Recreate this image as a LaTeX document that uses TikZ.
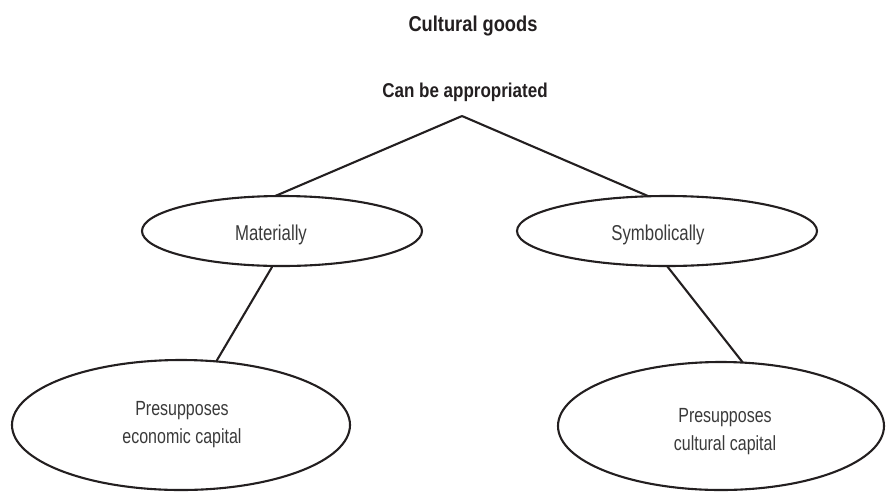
\documentclass[tikz,border=0pt]{standalone}
\usepackage{fontspec}
\setmainfont{Liberation Sans}
\newfontfamily\condreg[FakeStretch=0.78]{Liberation Sans}
\newfontfamily\condbold[FakeStretch=0.85]{Liberation Sans Bold}
\usetikzlibrary{shapes.geometric}
\definecolor{ink}{HTML}{231F20}
\definecolor{txtgray}{HTML}{3A3A3A}
\tikzset{
  ell/.style={draw=ink, line width=2.1pt, shape=ellipse, inner sep=0pt, outer sep=0pt},
  conn/.style={draw=ink, line width=2.1pt},
  boldtxt/.style={text=ink, inner sep=0pt, anchor=base, font=\condbold\fontsize{20}{24}\selectfont},
  midtxt/.style={text=txtgray, inner sep=0pt, anchor=base, font=\condreg\fontsize{21.5}{26}\selectfont},
  lowtxt/.style={text=txtgray, inner sep=0pt, anchor=base, align=center, font=\condreg\fontsize{20.5}{28}\selectfont},
}
\begin{document}
\begin{tikzpicture}[x=1pt, y=-1pt]
\useasboundingbox (0,0) rectangle (886,491);
% titles
\node[boldtxt, font=\condbold\fontsize{21.5}{26}\selectfont] (title) at (473,31) {Cultural goods};
\node[boldtxt] (appr) at (465,97) {Can be appropriated};
\coordinate (apex) at (462,116);
% middle ellipses
\node[ell, minimum width=280pt, minimum height=70pt] (mat) at (282,231) {};
\node[midtxt] (matt) at (271,240) {Materially};
\node[ell, minimum width=300pt, minimum height=70pt] (sym) at (667,231) {};
\node[midtxt] (symt) at (658,240) {Symbolically};
% lower ellipses
\node[ell, minimum width=338pt, minimum height=130pt] (econ) at (181,425) {};
\node[lowtxt] (econt) at (182,443) {Presupposes\\economic capital};
\node[ell, minimum width=326pt, minimum height=128pt] (cult) at (721,426) {};
\node[lowtxt] (cultt) at (725,450) {Presupposes\\cultural capital};
% connectors
\draw[conn] (apex) -- (mat.101);
\draw[conn] (apex) -- (sym.118.5);
\draw[conn] (mat.255.6) -- (econ.61);
\draw[conn] (sym.270) -- (cult.71.8);
\end{tikzpicture}
\end{document}
